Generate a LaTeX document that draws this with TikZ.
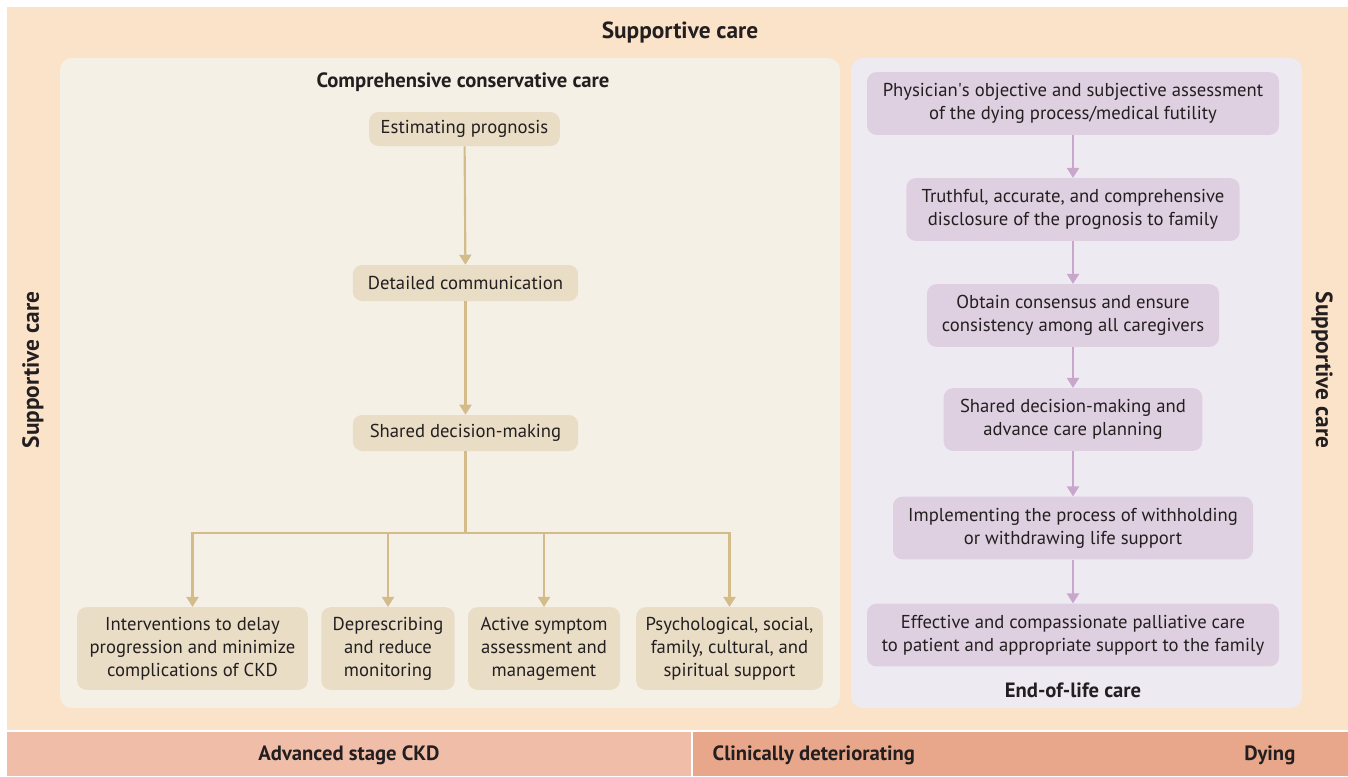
\documentclass[tikz,border=0pt]{standalone}
\usepackage{fontspec}
\setmainfont{PT Sans}
\usetikzlibrary{arrows.meta}

\definecolor{outerbg}{HTML}{FAE3C8}
\definecolor{ccmbg}{HTML}{F5F0E6}
\definecolor{ccmbox}{HTML}{E9DDC6}
\definecolor{ccmline}{HTML}{D4BB8A}
\definecolor{eolbg}{HTML}{EEEAF2}
\definecolor{eolbox}{HTML}{DFD0E1}
\definecolor{eolline}{HTML}{C9A7CC}
\definecolor{ckdbar}{HTML}{F0BDA8}
\definecolor{dyingbar}{HTML}{E8A68A}
\definecolor{inktext}{HTML}{231F20}

\tikzset{
  ccmstep/.style={fill=ccmbox, rounded corners=7pt, inner sep=2pt},
  eolstep/.style={fill=eolbox, rounded corners=7pt, inner sep=2pt, minimum height=47pt},
  ccmarrow/.style={draw=ccmline, line width=1.6pt, -{Triangle[width=9pt,length=7.5pt]}},
  eolarrow/.style={draw=eolline, line width=1.6pt, -{Triangle[width=9pt,length=7.5pt]}},
  heading/.style={font=\fontsize{15.5}{18}\selectfont\bfseries},
  sidehead/.style={font=\fontsize{17.5}{20}\selectfont\bfseries}
}

\begin{document}
\begin{tikzpicture}[x=0.75pt, y=-0.75pt, every node/.style={align=center, text=inktext, font=\fontsize{14}{17.25}\selectfont}]
				\useasboundingbox (0,0) rectangle (1348,776);
				% backgrounds
				\fill[outerbg] (7,7) rectangle (1348,730);
				\fill[ckdbar] (7,732) rectangle (691,776);
				\fill[dyingbar] (693,732) rectangle (1348,776);
				\fill[ccmbg, rounded corners=9pt] (60,58) rectangle (840,708);
				\fill[eolbg, rounded corners=9pt] (851,58) rectangle (1302,708);
				
				\node (topsc) at (680,32) [sidehead] {Supportive care};
				\node (leftsc) at (33,370) [sidehead, rotate=90] {Supportive care};
				\node (rightsc) at (1322,370) [sidehead, rotate=-90] {Supportive care};
				\node (ccmtitle) at (463,82) [heading] {Comprehensive conservative care};
				\node (eoltitle) at (1073,690) [heading] {End-of-life care};
				
				% comprehensive conservative care
				\node (prognosis) at (464.5,129) [ccmstep, minimum width=143pt, minimum height=25.5pt] {Estimating prognosis};
				\node (communic) at (465.5,283) [ccmstep, minimum width=169pt, minimum height=27pt] {Detailed communication};
				\node (shared) at (465.5,433) [ccmstep, minimum width=169pt, minimum height=27pt] {Shared decision-making};
				\coordinate (split) at (465.5,533);
				\node (delay) at (192.5,648.5) [ccmstep, minimum width=173pt, minimum height=62pt] {Interventions to delay\\progression and minimize\\complications of CKD};
				\node (deprescr) at (388,648.5) [ccmstep, minimum width=100pt, minimum height=62pt] {Deprescribing\\and reduce\\monitoring};
				\node (symptom) at (544,648.5) [ccmstep, minimum width=114pt, minimum height=62pt] {Active symptom\\assessment and\\management};
				\node (psych) at (729.5,648.5) [ccmstep, minimum width=140pt, minimum height=62pt] {Psychological, social,\\family, cultural, and\\spiritual support};
				
				% end-of-life care
				\node (assess) at (1073,103.5) [eolstep, minimum width=309pt] {Physician\textquotesingle s objective and subjective assessment\\of the dying process/medical futility};
				\node (disclose) at (1073,209.5) [eolstep, minimum width=250pt] {Truthful, accurate, and comprehensive\\disclosure of the prognosis to family};
				\node (consensus) at (1073,315.5) [eolstep, minimum width=219pt] {Obtain consensus and ensure\\consistency among all caregivers};
				\node (planning) at (1073,419.5) [eolstep, minimum width=194pt] {Shared decision-making and\\advance care planning};
				\node (withhold) at (1073,528) [eolstep, minimum width=270pt] {Implementing the process of withholding\\or withdrawing life support};
				\node (palliat) at (1073,635) [eolstep, minimum width=309pt] {Effective and compassionate palliative care\\to patient and appropriate support to the family};
				
				% stage bar
				\node (ckd) at (349,755) [heading] {Advanced stage CKD};
				\node (deterior) at (708,755) [heading, anchor=west] {Clinically deteriorating};
				\node (dying) at (1300,755) [heading, anchor=east] {Dying};
				
				\draw[ccmarrow] (prognosis) -- (communic);
				\draw[ccmarrow] (communic) -- (shared);
				\draw[draw=ccmline, line width=1.6pt] (shared) -- (split);
				\draw[ccmarrow] (split) -| (delay.north);
				\draw[ccmarrow] (split) -| (deprescr.north);
				\draw[ccmarrow] (split) -| (symptom.north);
				\draw[ccmarrow] (split) -| (psych.north);
				
				\draw[eolarrow] (assess) -- (disclose);
				\draw[eolarrow] (disclose) -- (consensus);
				\draw[eolarrow] (consensus) -- (planning);
				\draw[eolarrow] (planning) -- (withhold);
				\draw[eolarrow] (withhold) -- (palliat);
			\end{tikzpicture}
\end{document}
